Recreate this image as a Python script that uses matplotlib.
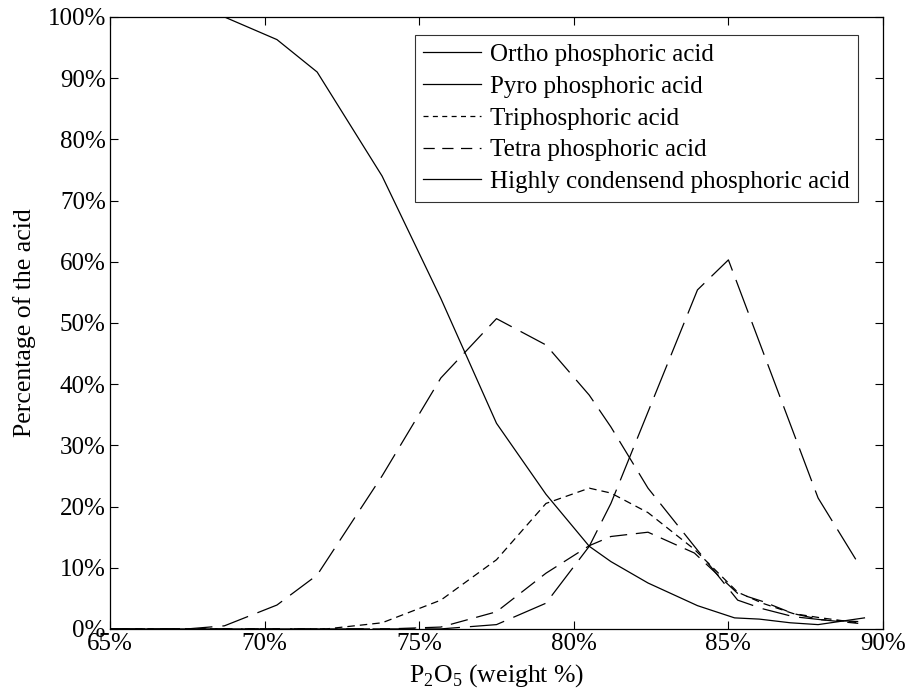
import matplotlib.pyplot as plt
from matplotlib.lines import Line2D
from matplotlib.ticker import FuncFormatter, MultipleLocator

plt.rcParams['font.family'] = ['Liberation Serif', 'DejaVu Serif']
plt.rcParams['mathtext.fontset'] = 'custom'
plt.rcParams['mathtext.rm'] = 'Liberation Serif'

# data (P2O5 weight %, percentage of the acid)
ortho_x = [65, 68.7, 70.4, 71.7, 73.8, 75.7, 77.5, 79.1, 80.5, 81.2, 82.4, 84.0, 85.2, 86.0, 87.0, 87.9, 89.4]
ortho_y = [100, 100, 96.3, 91, 74, 54, 33.6, 22, 13.5, 11, 7.5, 3.8, 1.8, 1.6, 1.0, 0.7, 1.8]

pyro_x = [65, 67.5, 68.7, 70.4, 71.7, 73.8, 75.7, 77.5, 79.1, 80.5, 81.2, 82.4, 83.9, 85.3, 86.1, 87.1, 88.0, 89.2]
pyro_y = [0, 0, 0.5, 3.9, 8.8, 25, 41, 50.7, 46.4, 38.2, 33, 23, 13.5, 4.7, 3.3, 2.0, 1.5, 1.2]

tri_x = [65, 72, 73.8, 75.7, 77.5, 79.1, 80.5, 81.2, 82.4, 83.9, 85.3, 86.1, 87.1, 88.0, 89.2]
tri_y = [0, 0, 1, 4.7, 11.3, 20.5, 23, 22.2, 19, 13, 6, 4.2, 2.5, 1.8, 1.0]

tetra_x = [65, 74, 75.7, 77.5, 79.1, 80.5, 81.2, 82.4, 83.9, 85.3, 86.1, 87.1, 88.0, 89.2]
tetra_y = [0, 0, 0.3, 2.8, 9.1, 13.6, 15.1, 15.8, 12.4, 5.8, 4.5, 2.5, 1.5, 0.9]

high_x = [65, 75.7, 77.5, 79.1, 80.5, 81.2, 84.0, 85.0, 87.9, 89.2]
high_y = [0, 0, 0.7, 4.2, 13.5, 20.5, 55.4, 60.3, 21.4, 10.7]

labels = ['Ortho phosphoric acid', 'Pyro phosphoric acid', 'Triphosphoric acid',
          'Tetra phosphoric acid', 'Highly condensend phosphoric acid']

fig = plt.figure(figsize=(9.09, 6.98), dpi=100)
ax = fig.add_axes([0.121, 0.099, 0.8504, 0.8767])

lw = 0.9
ax.plot(ortho_x, ortho_y, color='black', linewidth=lw)
ax.plot(pyro_x, pyro_y, color='black', linewidth=lw, dashes=(22, 8))
ax.plot(tri_x, tri_y, color='black', linewidth=lw, dashes=(6, 4))
ax.plot(tetra_x, tetra_y, color='black', linewidth=lw, dashes=(14, 7))
ax.plot(high_x, high_y, color='black', linewidth=lw, dashes=(28, 8))

# legend as it appears in the figure
handles = [Line2D([], [], color='black', linewidth=lw),
           Line2D([], [], color='black', linewidth=lw),
           Line2D([], [], color='black', linewidth=lw, dashes=(4, 3.5)),
           Line2D([], [], color='black', linewidth=lw, dashes=(9, 6)),
           Line2D([], [], color='black', linewidth=lw)]
leg = ax.legend(handles, labels, loc='upper right', bbox_to_anchor=(0.9677, 0.9706),
                borderaxespad=0, fontsize=18, frameon=True,
                fancybox=False, edgecolor='black', handlelength=2.3,
                labelspacing=0.37, borderpad=0.35, handletextpad=0.35)
leg.get_frame().set_linewidth(0.8)

ax.set_xlim(65, 90)
ax.set_ylim(0, 100)
ax.xaxis.set_major_locator(MultipleLocator(5))
ax.yaxis.set_major_locator(MultipleLocator(10))
ax.xaxis.set_major_formatter(FuncFormatter(lambda v, p: '%d%%' % v))
ax.yaxis.set_major_formatter(FuncFormatter(lambda v, p: '%d%%' % v))
ax.tick_params(direction='in', top=True, right=True, length=6, width=0.8,
               labelsize=18, pad=3)
for s in ax.spines.values():
    s.set_linewidth(0.9)

ax.set_xlabel(r'P$_2$O$_5$ (weight %)', fontsize=18.5, labelpad=5)
ax.set_ylabel('Percentage of the acid', fontsize=18.5, labelpad=8)

fig.savefig('out.png', dpi=100)
